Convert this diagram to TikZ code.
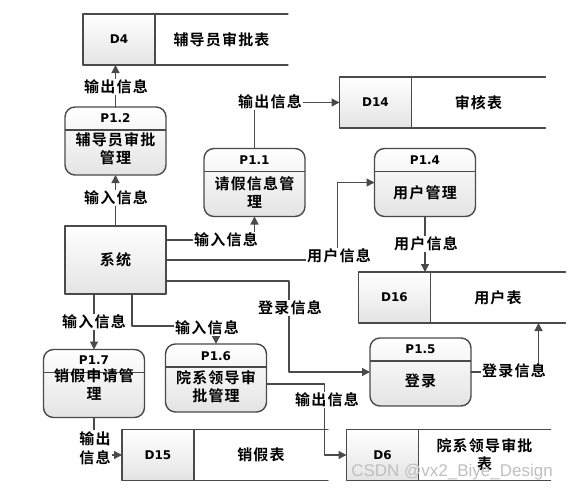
\documentclass[tikz,border=0pt]{standalone}
\usepackage{fontspec}
\setmainfont{Noto Sans CJK SC}[LetterSpace=8, UprightFont=* Bold]
\newfontfamily\idfont{DejaVu Sans}
\newfontfamily\markfont{Liberation Sans}
\usetikzlibrary{arrows.meta}

\definecolor{linegray}{HTML}{4A4A4A}
\definecolor{boxgray}{HTML}{E4E4E4}

\begin{document}
\begin{tikzpicture}[
			x=1pt, y=-1pt,
			every node/.style={font=\fontsize{15}{18}\selectfont},
			line cap=round,
			line join=round,
			box/.style={draw=linegray, line width=1.4pt, top color=white, bottom color=boxgray,
				minimum width=101pt, minimum height=68pt, inner sep=0pt, outer sep=0pt},
			proc/.style={box, rounded corners=10pt,
				path picture={\draw[linegray, line width=1.2pt]
					([yshift=-23pt]path picture bounding box.north west) --
					([yshift=-23pt]path picture bounding box.north east);}},
			cell/.style={box, minimum width=72pt, minimum height=51pt,
				font=\idfont\bfseries\fontsize{12}{14}\selectfont},
			store/.style={minimum height=51pt, inner sep=0pt, outer sep=0pt, anchor=west},
			pid/.style={font=\idfont\bfseries\fontsize{12}{14}\selectfont},
			edge/.style={draw=linegray, line width=1.3pt},
			flow/.style={edge, -{Triangle[length=8pt,width=8pt]}},
			lbl/.style={fill=white, inner sep=1pt, align=center}
			]
			\useasboundingbox (0,0) rectangle (577,495);
			
			% System
			\node[box] (sys) at (115.5,260) {系统};
			
			% Processes
			\node[proc] (p12) at (115.5,141) {};
			\node[pid] (p12id) at ([yshift=-11.5pt]p12.north) {P1.2};
			\node[align=center] (p12txt) at ([yshift=-42pt]p12.north) {辅导员审批\\管理};
			
			\node[proc] (p11) at (254.5,182.5) {};
			\node[pid] (p11id) at ([yshift=-12pt]p11.north) {P1.1};
			\node[align=center] (p11txt) at ([yshift=-43.5pt]p11.north) {请假信息管\\理};
			
			\node[proc] (p14) at (425,182.5) {};
			\node[pid] (p14id) at ([yshift=-12pt]p14.north) {P1.4};
			\node (p14txt) at ([yshift=-44pt]p14.north) {用户管理};
			
			\node[proc] (p17) at (94,383.5) {};
			\node[pid] (p17id) at ([yshift=-11pt]p17.north) {P1.7};
			\node[align=center] (p17txt) at ([yshift=-35pt]p17.north) {销假申请管\\理};
			
			\node[proc] (p16) at (216,378) {};
			\node[pid] (p16id) at ([yshift=-12pt]p16.north) {P1.6};
			\node[align=center] (p16txt) at ([yshift=-42.5pt]p16.north) {院系领导审\\批管理};
			
			\node[proc] (p15) at (420.5,372) {};
			\node[pid] (p15id) at ([yshift=-11pt]p15.north) {P1.5};
			\node (p15txt) at ([yshift=-43pt]p15.north) {登录};
			
			% Data stores
			\node[cell] (d4) at (119,39.5) {D4};
			\node[store, minimum width=133pt] (d4t) at (d4.east) {辅导员审批表};
			\node[cell] (d14) at (375.5,102.5) {D14};
			\node[store, minimum width=134pt] (d14t) at (d14.east) {审核表};
			\node[cell] (d16) at (394.5,297.5) {D16};
			\node[store, minimum width=135pt] (d16t) at (d16.east) {用户表};
			\node[cell] (d15) at (158,455) {D15};
			\node[store, minimum width=134pt] (d15t) at (d15.east) {销假表};
			\node[cell] (d6) at (382.5,455) {D6};
			\node[store, minimum width=132pt, align=center] (d6t) at (d6.east) {院系领导审批\\表};
			
			\foreach \d in {d4,d14,d16,d15,d6}{
				\draw[edge] (\d.north east) -- (\d t.north east);
				\draw[edge] (\d.south east) -- (\d t.south east);
			}
			
			% Flows
			\draw[flow] (p12.north) -- (p12.north |- d4.south);
			\node[lbl] (f1) at (116,87) {输出信息};
			
			\draw[flow] (sys.north) -- (p12.south);
			\node[lbl] (f2) at (116,198) {输入信息};
			
			\draw[flow] ([yshift=20pt]sys.east) -| (p11.south);
			\node[lbl] (f3) at (226,240) {输入信息};
			
			\draw[flow] (p11.north) |- (d14.west);
			\node[lbl] (f4) at (270,102) {输出信息};
			
			\draw[flow] (sys.east) -| ([xshift=-37pt]p14.west) -- (p14.west);
			\node[lbl] (f5) at (339,256) {用户信息};
			
			\draw[flow] (p14.south) -- (p14.south |- d16.north);
			\node[lbl] (f6) at (426,244) {用户信息};
			
			\draw[flow] ([yshift=-21pt]sys.east) -| ([xshift=-81pt]p15.west) -- (p15.west);
			\node[lbl] (f7) at (290,308) {登录信息};
			
			\draw[flow] (p15.east) -| ([xshift=40.5pt]d16t.south);
			\node[lbl] (f8) at (514,371) {登录信息};
			
			\draw[flow] ([yshift=-6pt]p16.east) -| ([xshift=-22pt]d6.west) -- (d6.west);
			\node[lbl] (f9) at (327,400) {输出信息};
			
			\draw[flow] (p17.north |- sys.south) -- (p17.north);
			\node[lbl] (f10) at (94,322) {输入信息};
			
			\draw[flow] ([xshift=16.5pt]sys.south) |- ([yshift=18pt]p16.north) -- (p16.north);
			\node[lbl] (f11) at (207,328) {输入信息};
			
			\draw[flow] (p17.south) |- (d15.west);
			\node[lbl, font=\fontsize{15}{19}\selectfont] (f12) at (95,448) {输出\\信息};
			
			% Watermark
			\node[text=black!25, font=\markfont\fontsize{17}{20}\selectfont] (mark) at (452,472) {CSDN @vx2\_Biye\_Design};
		\end{tikzpicture}
\end{document}
